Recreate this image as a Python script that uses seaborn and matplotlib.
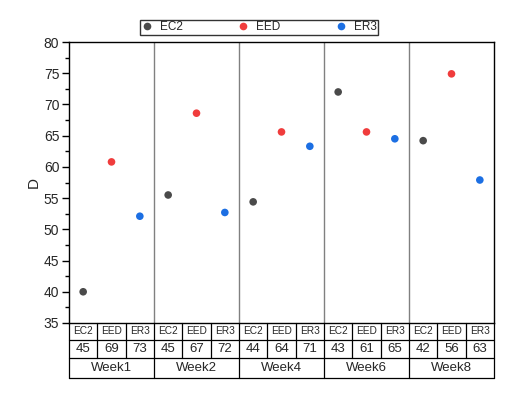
import matplotlib
matplotlib.use("Agg")
import matplotlib.pyplot as plt
import matplotlib.transforms as mtransforms
from matplotlib.lines import Line2D
from matplotlib.ticker import MultipleLocator
import seaborn as sns
import pandas as pd

weeks = ["Week1", "Week2", "Week4", "Week6", "Week8"]
groups = ["EC2", "EED", "ER3"]
d_ec2 = [40.0, 55.5, 54.4, 72.0, 64.2]
d_eed = [60.8, 68.6, 65.6, 65.6, 74.9]
d_er3 = [52.1, 52.7, 63.3, 64.5, 57.9]
n_ec2 = [45, 45, 44, 43, 42]
n_eed = [69, 67, 64, 61, 56]
n_er3 = [73, 72, 71, 65, 63]
colors = {"EC2": "#4a4a4a", "EED": "#f03c3c", "ER3": "#1c6fe3"}

vals = {"EC2": d_ec2, "EED": d_eed, "ER3": d_er3}
ns = {"EC2": n_ec2, "EED": n_eed, "ER3": n_er3}
rows = []
for wi, w in enumerate(weeks):
    for gi, g in enumerate(groups):
        rows.append({"Week": w, "Group": g, "pos": wi * 3 + gi + 0.5,
                     "D": vals[g][wi], "N": ns[g][wi]})
df = pd.DataFrame(rows)

sns.set_theme(style="white")
plt.rcParams["font.family"] = ["Liberation Sans", "DejaVu Sans"]

fig = plt.figure(figsize=(5.2, 3.98), dpi=100)
ax = fig.add_axes([69 / 520, 1 - 323 / 398, 425 / 520, 281 / 398])

sns.scatterplot(data=df, x="pos", y="D", hue="Group", palette=colors,
                s=30, edgecolor="none", ax=ax, legend=False, zorder=3)

ax.set_xlim(0, 15)
ax.set_ylim(35, 80)
ax.yaxis.set_major_locator(MultipleLocator(5))
ax.yaxis.set_minor_locator(MultipleLocator(2.5))
ax.tick_params(axis="y", which="major", direction="out", length=5, width=1,
               color="black", labelsize=10, pad=2, left=True)
ax.tick_params(axis="y", which="minor", direction="out", length=3, width=1,
               color="black", left=True)
ax.set_xticks([])
ax.set_xlabel("")
ax.set_ylabel("D", fontsize=11, labelpad=2)
for sp in ax.spines.values():
    sp.set_color("black")
    sp.set_linewidth(1)

for b in range(1, 5):
    ax.axvline(b * 3, color="#808080", lw=1, zorder=1)

# table under the axes
trans = mtransforms.blended_transform_factory(ax.transData, ax.transAxes)
r1 = -17 / 281
r2 = -35 / 281
r3 = -55 / 281
kw = dict(transform=trans, clip_on=False, color="black", lw=0.9)
for y in (r1, r2, r3):
    ax.add_line(Line2D([0, 15], [y, y], **kw))
for xb in range(0, 16):
    ybot = r3 if xb % 3 == 0 else r2
    ax.add_line(Line2D([xb, xb], [0, ybot], **kw))
for _, r in df.iterrows():
    ax.text(r["pos"], (0 + r1) / 2, r["Group"], transform=trans, ha="center",
            va="center", fontsize=7.3)
    ax.text(r["pos"], (r1 + r2) / 2, str(r["N"]), transform=trans, ha="center",
            va="center", fontsize=9.5)
for wi, w in enumerate(weeks):
    ax.text(wi * 3 + 1.5, (r2 + r3) / 2, w, transform=trans, ha="center",
            va="center", fontsize=9.5)

handles = [Line2D([], [], marker="o", ls="none", markersize=5.5,
                  markerfacecolor=colors[g], markeredgecolor="none", label=g)
           for g in groups]
leg = fig.legend(handles=handles, ncol=3, loc="center",
                 bbox_to_anchor=(259 / 520, 1 - 27.5 / 398), frameon=True,
                 fontsize=8.5, columnspacing=4.6, handletextpad=0.6,
                 handlelength=1.0, borderpad=0.15, fancybox=False)
leg.get_frame().set_edgecolor("black")
leg.get_frame().set_linewidth(1)

fig.savefig("out.png", dpi=100)
